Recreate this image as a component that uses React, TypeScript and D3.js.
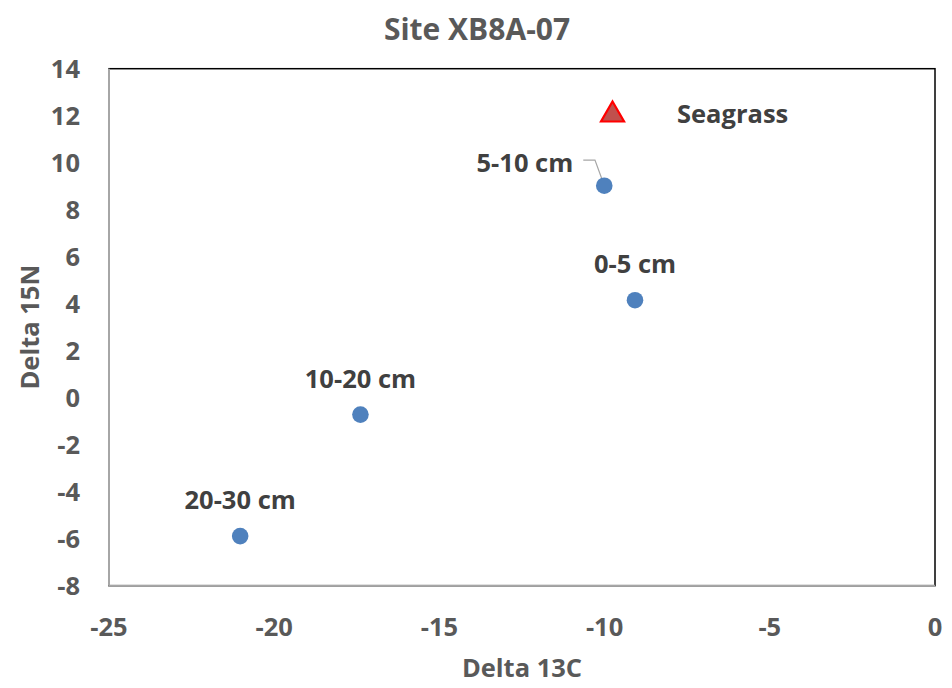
import React from "react";
import * as d3 from "d3";

const sampleLabels = ["0-5 cm", "5-10 cm", "10-20 cm", "20-30 cm"];
const delta13C = [-9.08, -10.01, -17.39, -21.03];
const delta15N = [4.15, 9.02, -0.72, -5.89];

const seagrassName = "Seagrass";
const seagrass13C = [-9.76];
const seagrass15N = [12.1];

const xTicks = [-25, -20, -15, -10, -5, 0];
const yTicks = [14, 12, 10, 8, 6, 4, 2, 0, -2, -4, -6, -8];

const W = 952;
const H = 688;
const M = { left: 109, right: 935, top: 68.7, bottom: 585.7 };
const FONT = "'Open Sans', Lato, sans-serif";
const FS = 25.5;

export default function App() {
  const x = d3.scaleLinear().domain([-25, 0]).range([M.left, M.right]);
  const y = d3.scaleLinear().domain([-8, 14]).range([M.bottom, M.top]);
  const tri = d3.symbol().type(d3.symbolTriangle).size(230)();

  return (
    <div style={{ position: "absolute", left: 0, top: 0 }}>
      <svg width={W} height={H} style={{ display: "block", background: "#fff" }}>
        <text x={477} y={29} dy="0.36em" textAnchor="middle" fontFamily={FONT} fontWeight="bold" fontSize={30} fill="#595959">
          Site XB8A-07
        </text>
        <rect x={M.left} y={M.top} width={M.right - M.left} height={M.bottom - M.top} fill="none" stroke="#000" strokeWidth={1.5} />
        <line x1={M.left} x2={M.left} y1={M.top} y2={M.bottom} stroke="#a6a6a6" strokeWidth={2} />
        <line x1={M.left} x2={M.right} y1={M.bottom} y2={M.bottom} stroke="#a6a6a6" strokeWidth={2} />
        {yTicks.map((t) => (
          <text key={t} x={80} y={y(t)} dy="0.36em" textAnchor="end" fontFamily={FONT} fontWeight="bold" fontSize={FS} fill="#595959">
            {t}
          </text>
        ))}
        {xTicks.map((t) => (
          <text key={t} x={x(t)} y={627} dy="0.36em" textAnchor="middle" fontFamily={FONT} fontWeight="bold" fontSize={FS} fill="#595959">
            {t}
          </text>
        ))}
        <text x={522} y={668} dy="0.36em" textAnchor="middle" fontFamily={FONT} fontWeight="bold" fontSize={FS} fill="#595959">
          Delta 13C
        </text>
        <text transform={`translate(30,${(M.top + M.bottom) / 2}) rotate(-90)`} dy="0.36em" textAnchor="middle" fontFamily={FONT} fontWeight="bold" fontSize={FS} fill="#595959">
          Delta 15N
        </text>
        {/* leader line for 5-10 cm */}
        <polyline
          points={`${x(delta13C[1]) - 21},${y(delta15N[1]) - 25.7} ${x(delta13C[1]) - 9.3},${y(delta15N[1]) - 25.7} ${x(delta13C[1]) - 1},${y(delta15N[1]) - 3}`}
          fill="none"
          stroke="#a6a6a6"
          strokeWidth={1.2}
        />
        {sampleLabels.map((lab, i) => (
          <circle key={lab} cx={x(delta13C[i])} cy={y(delta15N[i])} r={8.3} fill="#4f81bd" />
        ))}
        {sampleLabels.map((lab, i) => {
          const isLeader = i === 1;
          const lx = isLeader ? x(delta13C[i]) - 31 : x(delta13C[i]);
          const ly = isLeader ? y(delta15N[i]) - 23 : y(delta15N[i]) - 36;
          return (
            <text key={lab} x={lx} y={ly} dy="0.36em" textAnchor={isLeader ? "end" : "middle"} fontFamily={FONT} fontWeight="bold" fontSize={FS} fill="#404040">
              {lab}
            </text>
          );
        })}
        {seagrass13C.map((v, i) => (
          <g key={i}>
            <path d={tri || ""} transform={`translate(${x(v)},${y(seagrass15N[i]) + 1.5})`} fill="#c0504d" stroke="#ff0000" strokeWidth={2.2} />
            <text x={677} y={y(seagrass15N[i])} dy="0.36em" fontFamily={FONT} fontWeight="bold" fontSize={FS} fill="#404040">
              {seagrassName}
            </text>
          </g>
        ))}
      </svg>
    </div>
  );
}
